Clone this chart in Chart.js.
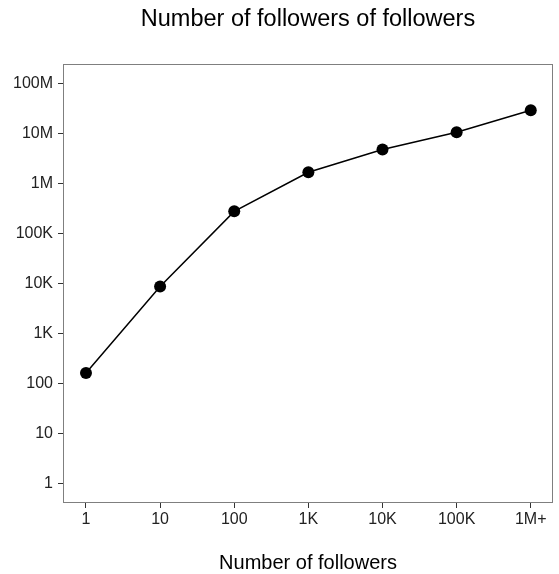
<!DOCTYPE html>
<html>
<head>
<meta charset="utf-8">
<script src="https://cdn.jsdelivr.net/npm/chart.js@4"></script>
<style>
  html, body { margin: 0; padding: 0; background: #fff; }
  #box { width: 559px; height: 574px; }
</style>
</head>
<body>
<div id="box"><canvas id="grafico"></canvas></div>
<script>
const categorias = ['1', '10', '100', '1K', '10K', '100K', '1M+'];
const seguidores = [160, 8700, 277000, 1680000, 4800000, 10600000, 29300000];
const yTickValores = [1, 10, 100, 1e3, 1e4, 1e5, 1e6, 1e7, 1e8];
const yTickLabels = ['1', '10', '100', '1K', '10K', '100K', '1M', '10M', '100M'];

const fonte = "'Liberation Sans', Arial, Helvetica, sans-serif";

const bordaPainel = {
  id: 'bordaPainel',
  afterDraw(chart) {
    const a = chart.chartArea;
    const ctx = chart.ctx;
    ctx.save();
    ctx.strokeStyle = '#7f7f7f';
    ctx.lineWidth = 1;
    ctx.strokeRect(Math.round(a.left) + 0.5, Math.round(a.top) + 0.5,
      Math.round(a.right - a.left) - 1, Math.round(a.bottom - a.top) - 1);
    ctx.restore();
  }
};

const ctx = document.getElementById('grafico').getContext('2d');
new Chart(ctx, {
  type: 'line',
  data: {
    datasets: [{
      label: 'Seguidores',
      data: categorias.map((c, i) => ({ x: i, y: seguidores[i] })),
      borderColor: '#000',
      backgroundColor: '#000',
      borderWidth: 1.5,
      pointRadius: 6,
      pointHoverRadius: 6,
      pointBorderWidth: 0,
      fill: false,
      tension: 0
    }]
  },
  options: {
    responsive: true,
    maintainAspectRatio: false,
    animation: false,
    layout: { padding: { left: 0, right: 5, top: 0, bottom: 0 } },
    plugins: {
      legend: { display: false },
      tooltip: { enabled: false },
      title: {
        display: true,
        fullSize: false,
        text: 'Number of followers of followers',
        color: '#000',
        font: { family: fonte, size: 23.5, weight: 'normal', lineHeight: 1.2 },
        padding: { top: 5, bottom: 31 }
      }
    },
    scales: {
      x: {
        type: 'linear',
        min: -0.31,
        max: 6.30,
        afterBuildTicks: (scale) => {
          scale.ticks = categorias.map((c, i) => ({ value: i }));
        },
        afterFit: (scale) => { scale.height = 71; },
        ticks: {
          color: '#222',
          font: { family: fonte, size: 16 },
          padding: 2,
          maxRotation: 0,
          autoSkip: false,
          callback: (v) => categorias[v]
        },
        grid: { drawOnChartArea: false, tickLength: 5, tickColor: '#333', tickWidth: 1 },
        border: { display: false },
        title: {
          display: true,
          text: 'Number of followers',
          color: '#000',
          font: { family: fonte, size: 20, lineHeight: 1 },
          padding: { top: 0, bottom: 1 }
        }
      },
      y: {
        type: 'logarithmic',
        min: 0.40,
        max: 2.45e8,
        afterBuildTicks: (scale) => {
          scale.ticks = yTickValores.map(v => ({ value: v }));
        },
        afterFit: (scale) => { scale.width = 63; },
        ticks: {
          color: '#222',
          font: { family: fonte, size: 16 },
          padding: 5,
          autoSkip: false,
          callback: (v) => {
            const i = yTickValores.indexOf(v);
            return i >= 0 ? yTickLabels[i] : '';
          }
        },
        grid: { drawOnChartArea: false, tickLength: 5, tickColor: '#333', tickWidth: 1 },
        border: { display: false }
      }
    }
  },
  plugins: [bordaPainel]
});
</script>
</body>
</html>
